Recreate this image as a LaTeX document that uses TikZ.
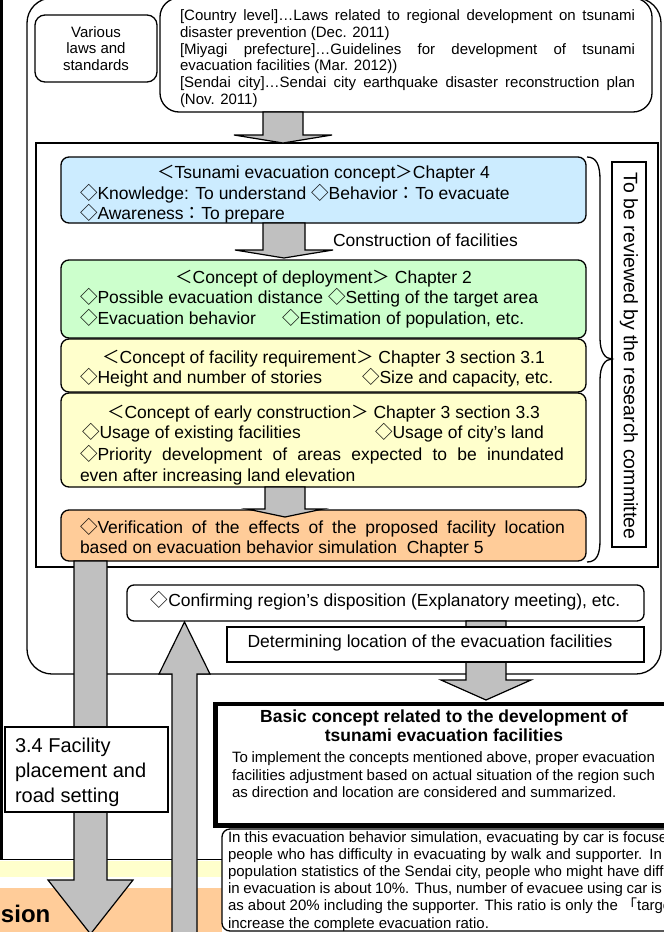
\documentclass[tikz,border=0pt]{standalone}
\usepackage{fontspec}
\setmainfont{Liberation Sans}
\newfontfamily\cjk{Noto Sans CJK JP}
\usetikzlibrary{fit}
\definecolor{cblue}{RGB}{204,236,255}
\definecolor{cgreen}{RGB}{204,255,204}
\definecolor{cyellow}{RGB}{255,255,204}
\definecolor{corange}{RGB}{255,204,153}
\definecolor{agray}{RGB}{192,192,192}
\newcommand{\dia}{{\cjk ◇}}
\newcommand{\Lb}{{\cjk ＜}}
\newcommand{\Rb}{{\cjk ＞}}
\newcommand{\fcol}{{\cjk ：}}
\newcommand{\qo}{{\cjk 「}}
\newcommand{\fL}{\fontsize{17.5pt}{21pt}\selectfont}
\newcommand{\fM}{\fontsize{15pt}{17pt}\selectfont}
\newcommand{\fB}{\fontsize{20pt}{25pt}\selectfont}
% block arrow: x, start y, head base y, tip y, shaft half width, head half width
\newcommand{\BlkArr}[6]{%
  \draw[blk] ({#1-#5},#2) -- ({#1-#5},#3) -- ({#1-#6},#3) -- (#1,#4)
    -- ({#1+#6},#3) -- ({#1+#5},#3) -- ({#1+#5},#2) -- cycle;}
\tikzset{
  txt/.style={inner sep=0pt, outer sep=0pt},
  frame/.style={draw, line width=1.3pt, inner sep=0pt, outer sep=0pt},
  cbox/.style={frame, rounded corners=8pt},
  blk/.style={draw, line width=1.2pt, fill=agray, line join=miter},
}
\begin{document}
\begin{tikzpicture}[x=1pt, y=-1pt]
\useasboundingbox (0,0) rectangle (664,932);
\fill[white] (0,0) rectangle (664,932);
% bottom-left bands
\fill[cyellow] (0,861) rectangle (222,877);
\fill[corange] (0,888) rectangle (222,940);
\draw[line width=1pt] (0,859) -- (222,859);
\draw[line width=3pt] (1.5,-5) -- (1.5,859);
% big rounded frame
\node[frame, rounded corners=25pt, fit={(27,-2) (661,674)}] (outer) {};
% top row
\node[frame, rounded corners=10pt, fit={(35,15) (157,82)}] (various) {};
\node[frame, rounded corners=19pt, fill=white, fit={(160,-2) (652,112)}] (laws) {};
% inner square frame
\node[frame, fit={(36,143) (658,567)}] (inner) {};
% coloured boxes
\node[cbox, fill=cblue, fit={(61,157) (586,223)}] (blue) {};
\node[cbox, fill=cgreen, fit={(61,260) (586,338)}] (green) {};
\node[cbox, fill=cyellow, fit={(61,339) (586,392)}] (yel1) {};
\node[cbox, fill=cyellow, fit={(61,393) (586,487)}] (yel2) {};
\node[cbox, fill=corange, fit={(61,510) (586,561)}] (orng) {};
% brace and review box
\draw[line width=1.3pt] (587,157) .. controls (597,157) and (600,166) .. (600,180)
  -- (600,338) .. controls (600,352) and (605,359) .. (612,359)
  .. controls (605,359) and (600,366) .. (600,380)
  -- (600,540) .. controls (600,554) and (597,562) .. (587,562);
\node[frame, fit={(612,162) (646,547)}] (review) {};
% lower boxes
\node[cbox, rounded corners=7pt, fill=white, fit={(127,585) (644,621)}] (confirm) {};
\BlkArr{486}{621}{680}{700}{20}{45}
\node[frame, fill=white, fit={(227,627) (644,662)}] (determ) {};
\node[frame, line width=4.5pt, fill=white, fit={(215.5,704) (676,825.5)}] (basic) {};
\node[cbox, fill=white, fit={(222,829) (690,931)}] (note) {};
% big arrows
\BlkArr{90.5}{561}{880}{934}{16.5}{42.5}
\BlkArr{184.5}{940}{674}{622}{12.5}{25.5}
\node[frame, fill=white, fit={(5,727) (168,812)}] (place) {};
\BlkArr{283}{112}{135}{143}{20}{49}
\BlkArr{284}{223}{250}{258}{21}{49}
\BlkArr{285}{487}{509}{517}{20}{38}
% ---------- texts ----------
\node[txt, anchor=base] (v1) at (96,37) {\fM Various};
\node[txt, anchor=base] (v2) at (96,53.5) {\fM laws and};
\node[txt, anchor=base] (v3) at (96,70) {\fM standards};
\node[txt, anchor=base west] (l1) at (180,20.5) {\fM\makebox[455pt][s]{[Country level]…Laws related to regional development on tsunami}};
\node[txt, anchor=base west] (l2) at (180,37.3) {\fM disaster prevention (Dec. 2011)};
\node[txt, anchor=base west] (l3) at (180,54.1) {\fM\makebox[455pt][s]{[Miyagi prefecture]…Guidelines for development of tsunami}};
\node[txt, anchor=base west] (l4) at (180,70.9) {\fM evacuation facilities (Mar. 2012))};
\node[txt, anchor=base west] (l5) at (180,87.7) {\fM\makebox[455pt][s]{[Sendai city]…Sendai city earthquake disaster reconstruction plan}};
\node[txt, anchor=base west] (l6) at (180,104.5) {\fM(Nov. 2011)};
% blue
\node[txt, anchor=base] (b1) at (323.5,178) {\fL\Lb Tsunami evacuation concept\Rb Chapter 4};
\node[txt, anchor=base west] (b2) at (80,199) {\fL\dia Knowledge: To understand \dia Behavior\fcol To evacuate};
\node[txt, anchor=base west] (b3) at (80,219) {\fL\dia Awareness\fcol To prepare};
\node[txt, anchor=base west] (cons) at (333,246) {\fL Construction of facilities};
% green
\node[txt, anchor=base] (g1) at (323.5,283) {\fL\Lb Concept of deployment\Rb\ Chapter 2};
\node[txt, anchor=base west] (g2) at (80,303) {\fL\dia Possible evacuation distance \dia Setting of the target area};
\node[txt, anchor=base west] (g3) at (80,324) {\fL\dia Evacuation behavior};
\node[txt, anchor=base west] (g4) at (282,324) {\fL\dia Estimation of population, etc.};
% yellow 1
\node[txt, anchor=base] (y1) at (323.5,363) {\fL\Lb Concept of facility requirement\Rb\ Chapter 3 section 3.1};
\node[txt, anchor=base west] (y2) at (80,383) {\fL\dia Height and number of stories};
\node[txt, anchor=base west] (y3) at (362,383) {\fL\dia Size and capacity, etc.};
% yellow 2
\node[txt, anchor=base] (z1) at (323.5,418) {\fL\Lb Concept of early construction\Rb\ Chapter 3 section 3.3};
\node[txt, anchor=base west] (z2) at (82,438) {\fL\dia Usage of existing facilities};
\node[txt, anchor=base west] (z3) at (375,438) {\fL\dia Usage of city’s land};
\node[txt, anchor=base west] (z4) at (80,460) {\fL\makebox[484pt][s]{\dia Priority development of areas expected to be inundated}};
\node[txt, anchor=base west] (z5) at (80,481) {\fL even after increasing land elevation};
% orange
\node[txt, anchor=base west] (o1) at (80,533) {\fL\makebox[485pt][s]{\dia Verification of the effects of the proposed facility location}};
\node[txt, anchor=base west] (o2) at (80,553) {\fL based on evacuation behavior simulation\ \ Chapter 5};
% review
\node[txt, rotate=-90] (rv) at (629,356) {\fontsize{19.5pt}{23pt}\selectfont To be reviewed by the research committee};
% lower
\node[txt, anchor=base] (cf) at (385.5,606) {\fL\dia Confirming region’s disposition (Explanatory meeting), etc.};
\node[txt, anchor=base] (dt) at (430,647) {\fL Determining location of the evacuation facilities};
\node[txt, anchor=base] (bt1) at (444,722) {\fL\bfseries Basic concept related to the development of};
\node[txt, anchor=base] (bt2) at (444,741) {\fL\bfseries tsunami evacuation facilities};
\node[txt, anchor=base west] (bb1) at (232,762) {\fM\makebox[423pt][s]{To implement the concepts mentioned above, proper evacuation}};
\node[txt, anchor=base west] (bb2) at (232,780) {\fM\makebox[423pt][s]{facilities adjustment based on actual situation of the region such}};
\node[txt, anchor=base west] (bb3) at (232,797) {\fM as direction and location are considered and summarized.};
\node[txt, anchor=base west] (p1) at (15,752) {\fB 3.4 Facility};
\node[txt, anchor=base west] (p2) at (15,777) {\fB placement and};
\node[txt, anchor=base west] (p3) at (15,802) {\fB road setting};
\node[txt, anchor=base west] (n1) at (228,842) {\fM In this evacuation behavior simulation, evacuating by car is focuse};
\node[txt, anchor=base west] (n2) at (228,859.2) {\fM\makebox[434pt][s]{people who has difficulty in evacuating by walk and supporter. In}};
\node[txt, anchor=base west] (n3) at (228,876.4) {\fM population statistics of the Sendai city, people who might have diffi};
\node[txt, anchor=base west] (n4) at (228,893.6) {\fM\makebox[434pt][s]{in evacuation is about 10\%. Thus, number of evacuee using car is}};
\node[txt, anchor=base west] (n5) at (228,910.8) {\fM as about 20\% including the supporter. This ratio is only the \qo targe};
\node[txt, anchor=base west] (n6) at (228,928) {\fM increase the complete evacuation ratio.};
\node[txt, anchor=base west] (sion) at (1,922) {\fontsize{24pt}{28pt}\selectfont\bfseries sion};
\end{tikzpicture}
\end{document}
